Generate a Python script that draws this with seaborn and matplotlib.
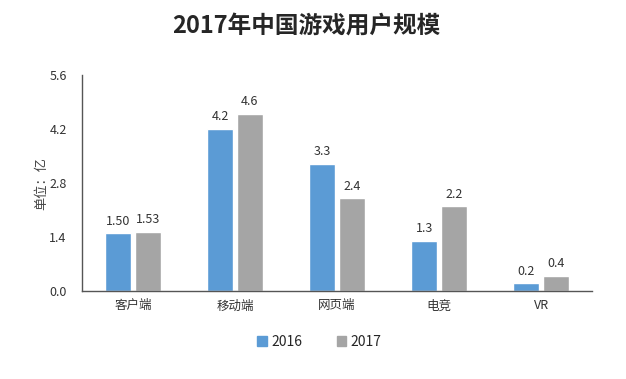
import matplotlib
matplotlib.use("Agg")
import matplotlib.pyplot as plt
import seaborn as sns
import pandas as pd

categories = ["客户端", "移动端", "网页端", "电竞", "VR"]
values_2016 = [1.50, 4.2, 3.3, 1.3, 0.2]
values_2017 = [1.53, 4.6, 2.4, 2.2, 0.4]
labels_2016 = ["1.50", "4.2", "3.3", "1.3", "0.2"]
labels_2017 = ["1.53", "4.6", "2.4", "2.2", "0.4"]
series = ["2016", "2017"]
yticks = [0.0, 1.4, 2.8, 4.2, 5.6]

sns.set_theme(style="white")
plt.rcParams['font.family'] = ['Noto Sans CJK SC', 'DejaVu Sans']

df = pd.DataFrame({
    "cat": categories * 2,
    "year": [series[0]] * 5 + [series[1]] * 5,
    "val": values_2016 + values_2017,
})

fig = plt.figure(figsize=(6.26, 3.79), dpi=100)
ax = fig.add_axes([0.131, 0.232, 0.815, 0.570])
palette = {"2016": "#5B9BD5", "2017": "#A5A5A5"}
sns.barplot(data=df, x="cat", y="val", hue="year", palette=palette,
            width=0.58, gap=0.12, ax=ax, legend=False, saturation=1)

for cont, labs in zip(ax.containers, [labels_2016, labels_2017]):
    ax.bar_label(cont, labels=labs, padding=4, fontsize=9, color="#333333")

ax.set_ylim(0, 5.6)
ax.set_yticks(yticks)
ax.set_yticklabels([f"{t:.1f}" for t in yticks])
ax.set_xlabel("")
ax.set_ylabel("单位：亿", fontsize=9.5, color="#444444", labelpad=1)
ax.tick_params(axis="both", labelsize=9, colors="#333333", length=0)
ax.tick_params(axis="x", pad=6)
ax.tick_params(axis="y", pad=11)
for s in ["top", "right"]:
    ax.spines[s].set_visible(False)
ax.spines["left"].set_color("#555555")
ax.spines["bottom"].set_color("#555555")
ax.spines["left"].set_linewidth(1)
ax.spines["bottom"].set_linewidth(1)
ax.set_xlim(-0.5, 4.5)

from matplotlib.patches import Patch
handles = [Patch(color=palette[s], label=s) for s in series]
fig.legend(handles=handles, loc="center", bbox_to_anchor=(0.51, 0.098), ncol=2,
           frameon=False, fontsize=10, handlelength=0.7, handleheight=0.7,
           handletextpad=0.3, columnspacing=2.5)

fig.suptitle("2017年中国游戏用户规模", x=0.49, y=0.965, fontsize=17, fontweight="bold")
fig.savefig("out.png", dpi=100)
